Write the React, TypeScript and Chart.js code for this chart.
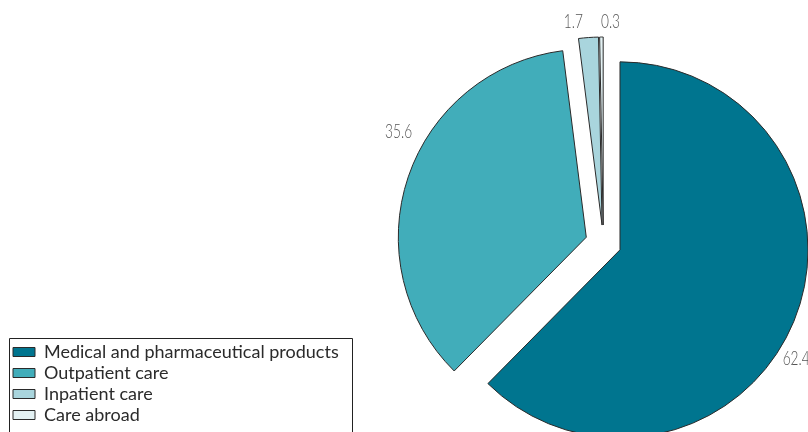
import React, { useEffect, useRef } from "react";
import { Chart, registerables } from "chart.js";

Chart.register(...registerables);

// ---- data ----
const categories = [
  "Medical and pharmaceutical products",
  "Outpatient care",
  "Inpatient care",
  "Care abroad",
];
const shares = [62.4, 35.6, 1.7, 0.3];
const valueLabels = ["62.4", "35.6", "1.7", "0.3"];

// ---- styles ----
const COLORS = ["#00758f", "#41adba", "#a9d5dd", "#e3f1f3"];
const BORDER = "#2a2a2a";
const EXPLODE = 18;
const RADIUS = 188;
const LABEL_ANGLE_NUDGE_DEG = [8.7, 9.8, -3.6, 2.4];
const LABEL_GAP = [19, 27, 17, 15];
const LABEL_FONT = "300 19px Lato, 'Noto Sans', sans-serif";
const LABEL_SQUEEZE = 0.72;
const LABEL_COLOR = "#555555";
const CANVAS_W = 858; // wider than the 808 frame; right part is cropped like the reference
const CANVAS_H = 432;

const explodePlugin = {
  id: "explodeSlices",
  beforeDatasetsDraw(chart: any) {
    const ca = chart.chartArea;
    const cx = (ca.left + ca.right) / 2;
    const cy = (ca.top + ca.bottom) / 2;
    chart.getDatasetMeta(0).data.forEach((el: any) => {
      const mid = (el.startAngle + el.endAngle) / 2;
      el.x = cx + Math.cos(mid) * EXPLODE;
      el.y = cy + Math.sin(mid) * EXPLODE;
    });
  },
};

const valueLabelPlugin = {
  id: "valueLabels",
  afterDatasetsDraw(chart: any) {
    const ctx = chart.ctx;
    const ca = chart.chartArea;
    const cx = (ca.left + ca.right) / 2;
    const cy = (ca.top + ca.bottom) / 2;
    chart.getDatasetMeta(0).data.forEach((el: any, i: number) => {
      const a = (el.startAngle + el.endAngle) / 2 + (LABEL_ANGLE_NUDGE_DEG[i] * Math.PI) / 180;
      const r = el.outerRadius + EXPLODE + LABEL_GAP[i];
      const x = cx + Math.cos(a) * r;
      const y = cy + Math.sin(a) * r;
      ctx.save();
      ctx.translate(x, y);
      ctx.scale(LABEL_SQUEEZE, 1);
      ctx.font = LABEL_FONT;
      ctx.fillStyle = LABEL_COLOR;
      ctx.textAlign = "center";
      ctx.textBaseline = "middle";
      ctx.fillText(valueLabels[i], 0, 0);
      ctx.restore();
    });
  },
};

const legendFramePlugin = {
  id: "legendFrame",
  afterDraw(chart: any) {
    const lg = chart.legend;
    if (!lg || !lg.legendHitBoxes || !lg.legendHitBoxes.length) return;
    const hb = lg.legendHitBoxes;
    let left = Infinity;
    let right = -Infinity;
    let top = Infinity;
    hb.forEach((h: any) => {
      left = Math.min(left, h.left);
      right = Math.max(right, h.left + h.width);
      top = Math.min(top, h.top);
    });
    const ctx = chart.ctx;
    ctx.save();
    ctx.strokeStyle = "#222";
    ctx.lineWidth = 1;
    const x0 = Math.round(left - 4) + 0.5;
    const y0 = Math.round(top - 5) + 0.5;
    const x1 = Math.round(right + 13) + 0.5;
    ctx.beginPath();
    ctx.moveTo(x0, chart.height + 5);
    ctx.lineTo(x0, y0);
    ctx.lineTo(x1, y0);
    ctx.lineTo(x1, chart.height + 5);
    ctx.stroke();
    ctx.restore();
  },
};

export default function App() {
  const canvasRef = useRef<HTMLCanvasElement | null>(null);

  useEffect(() => {
    if (!canvasRef.current) return;
    const chart = new Chart(canvasRef.current, {
      type: "pie",
      data: {
        labels: categories,
        datasets: [
          {
            data: shares,
            backgroundColor: COLORS,
            borderColor: BORDER,
            borderWidth: 1,
            borderJoinStyle: "miter",
            clip: false,
          } as any,
        ],
      },
      options: {
        animation: false,
        responsive: false,
        radius: RADIUS,
        layout: { padding: { left: 10, top: 59, bottom: 5, right: 0 } },
        plugins: {
          tooltip: { enabled: false },
          title: { display: false },
          legend: {
            display: true,
            position: "left",
            align: "end",
            labels: {
              boxWidth: 22,
              boxHeight: 9,
              padding: 3,
              color: "#2b2b2b",
              font: { family: "Lato, 'Noto Sans', sans-serif", size: 18 },
            },
          },
        },
      } as any,
      plugins: [explodePlugin, valueLabelPlugin, legendFramePlugin],
    });
    return () => chart.destroy();
  }, []);

  return (
    <div
      style={{
        position: "fixed",
        left: 0,
        top: 0,
        width: 808,
        height: 432,
        overflow: "hidden",
        background: "#fff",
      }}
    >
      <canvas ref={canvasRef} width={CANVAS_W} height={CANVAS_H} style={{ display: "block" }} />
    </div>
  );
}
